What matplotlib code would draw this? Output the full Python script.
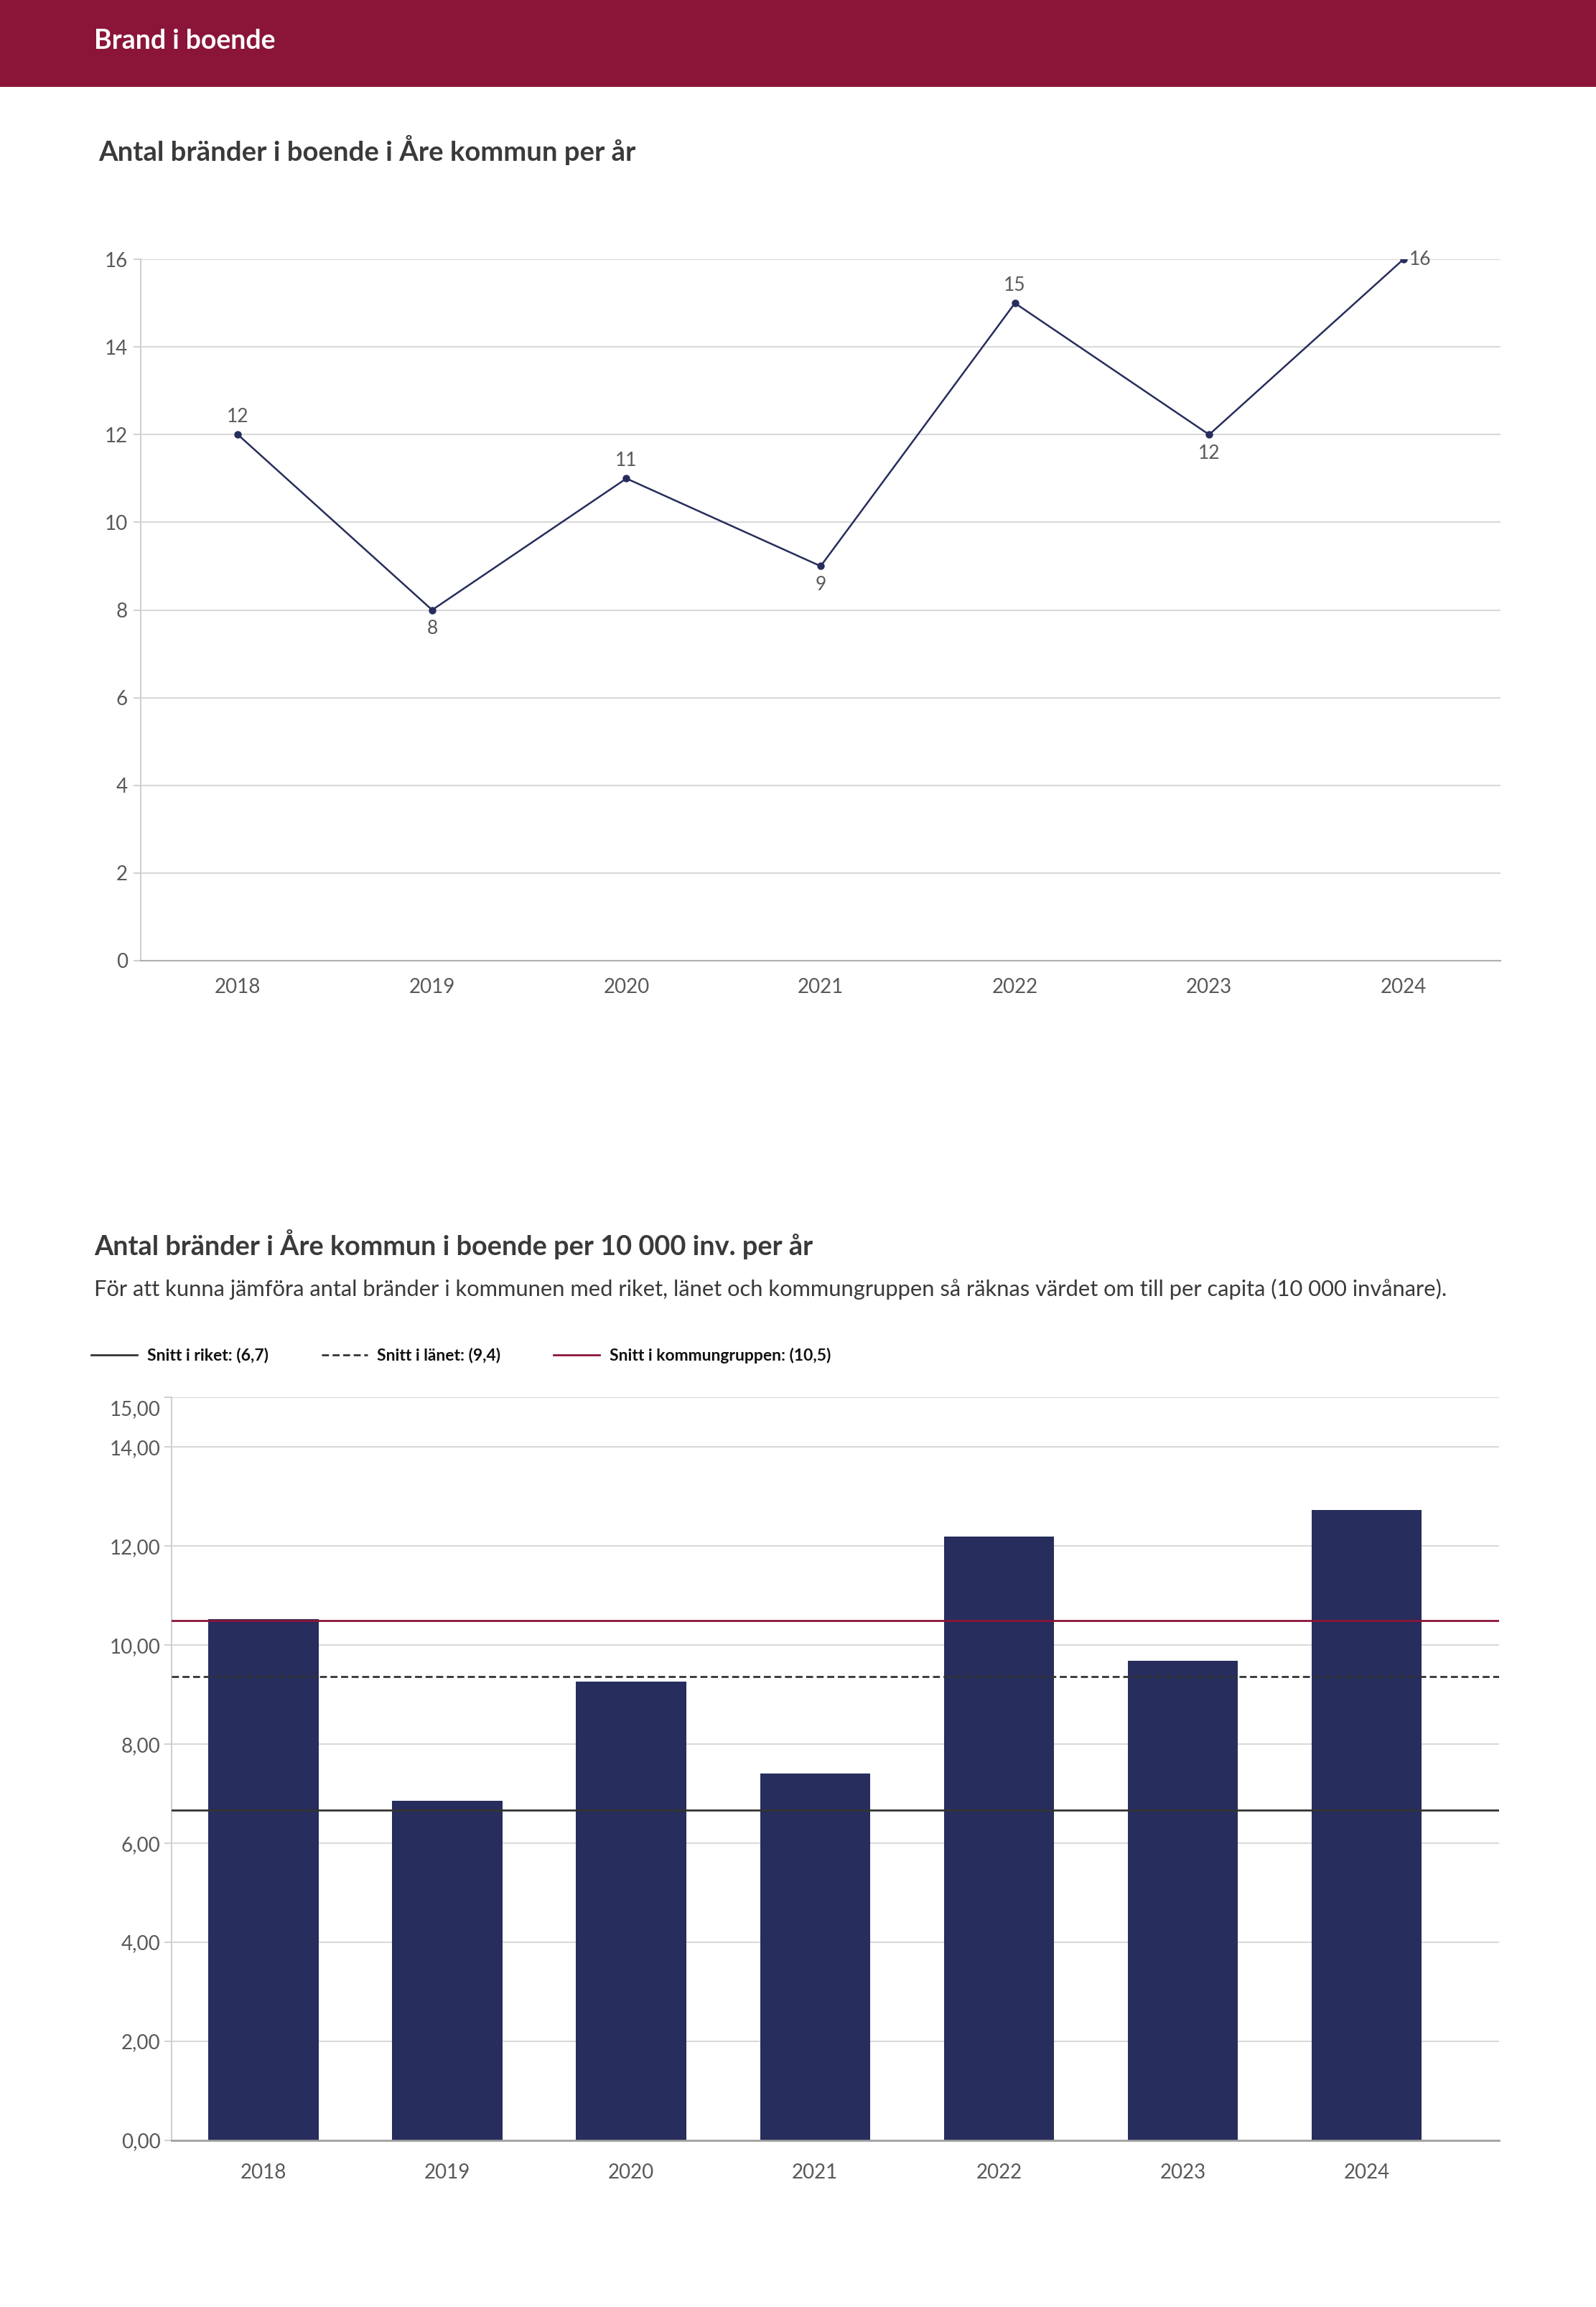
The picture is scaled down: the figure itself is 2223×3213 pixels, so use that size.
import matplotlib
matplotlib.use('Agg')
import matplotlib.pyplot as plt
from matplotlib.patches import Rectangle

# data
years = ['2018', '2019', '2020', '2021', '2022', '2023', '2024']
fires = [12, 8, 11, 9, 15, 12, 16]
fires_per_10k = [10.53, 6.86, 9.26, 7.40, 12.19, 9.68, 12.73]
snitt_riket = 6.67
snitt_lanet = 9.37
snitt_kommungrupp = 10.49

NAVY = '#272d5c'
CRIMSON = '#8b1538'
GRID = '#d9d9d9'
TXT = '#595959'
TITLE = '#3a3a3a'

plt.rcParams['font.family'] = ['Lato', 'DejaVu Sans']

fig = plt.figure(figsize=(22.23, 32.13), dpi=100)

# header band
fig.add_artist(Rectangle((0, 0.9623), 1, 0.0377, transform=fig.transFigure,
                         facecolor=CRIMSON, edgecolor='none'))
fig.text(0.059, 0.9823, 'Brand i boende', color='white', fontsize=27,
         fontweight='bold', va='center', ha='left')

def comma(v, nd):
    return '{0:.{1}f}'.format(v, nd).replace('.', ',')

# ---- chart 1: line
fig.text(0.0616, 0.935, 'Antal bränder i boende i Åre kommun per år',
         color=TITLE, fontsize=27.5, fontweight='bold', va='center')
ax1 = fig.add_axes([0.0882, 0.5836, 0.852, 0.304])
x = list(range(len(years)))
ax1.plot(x, fires, '-o', color=NAVY, lw=1.8, ms=6.5, zorder=3)
ax1.set_xlim(-0.5, len(years) - 0.5)
ax1.set_ylim(0, 16)
ax1.set_yticks(range(0, 17, 2))
ax1.set_xticks(x)
ax1.set_xticklabels(years)
ax1.grid(axis='y', color=GRID, lw=1.5)
ax1.set_axisbelow(True)
for s in ['top', 'right']:
    ax1.spines[s].set_visible(False)
ax1.spines['left'].set_color('#d0d0d0')
ax1.spines['bottom'].set_color('#b0b0b0')
ax1.spines['left'].set_linewidth(1.5)
ax1.spines['bottom'].set_linewidth(1.5)
ax1.tick_params(axis='y', colors='#c8c8c8', labelcolor=TXT, labelsize=20,
                length=7, width=1.2, pad=6)
ax1.tick_params(axis='x', length=0, labelcolor=TXT, labelsize=20, pad=17)
n = len(fires)
for i, v in enumerate(fires):
    if i == n - 1:
        ax1.annotate(str(v), (i, v), xytext=(6, 0), textcoords='offset points',
                     ha='left', va='center', fontsize=19, color=TXT)
    elif 0 < i and v < fires[i - 1] and v < fires[i + 1]:
        ax1.annotate(str(v), (i, v), xytext=(0, -10), textcoords='offset points',
                     ha='center', va='top', fontsize=19, color=TXT)
    else:
        ax1.annotate(str(v), (i, v), xytext=(0, 9), textcoords='offset points',
                     ha='center', va='bottom', fontsize=19, color=TXT)

# ---- chart 2: bars
fig.text(0.059, 0.4606, 'Antal bränder i Åre kommun i boende per 10 000 inv. per år',
         color=TITLE, fontsize=27.3, fontweight='bold', va='center')
fig.text(0.059, 0.4413, 'För att kunna jämföra antal bränder i kommunen med riket, länet '
         'och kommungruppen så räknas värdet om till per capita (10 000 invånare).',
         color=TITLE, fontsize=22.2, va='center')

ax2 = fig.add_axes([0.1075, 0.0722, 0.8318, 0.3221])
ax2.bar(x, fires_per_10k, width=0.6, color=NAVY, zorder=2)
l1 = ax2.axhline(snitt_riket, color='#333333', lw=2, zorder=3,
                 label='Snitt i riket: (' + comma(snitt_riket, 1) + ')')
l2 = ax2.axhline(snitt_lanet, color='#333333', lw=2, ls=(0, (3.5, 1.8)), zorder=3,
                 label='Snitt i länet: (' + comma(snitt_lanet, 1) + ')')
l3 = ax2.axhline(snitt_kommungrupp, color=CRIMSON, lw=2, zorder=3,
                 label='Snitt i kommungruppen: (' + comma(snitt_kommungrupp, 1) + ')')
ax2.set_xlim(-0.5, 6.72)
ax2.set_ylim(0, 15)
yt = [0, 2, 4, 6, 8, 10, 12, 14, 15]
ax2.set_yticks(yt)
ax2.set_yticklabels([comma(v, 2) if v != 15 else '' for v in yt])
# top label sits just under its gridline
ax2.annotate(comma(15, 2), (0, 15), xycoords=ax2.get_yaxis_transform(),
             xytext=(-11, -3), textcoords='offset points',
             ha='right', va='top', fontsize=20, color=TXT)
ax2.set_xticks(x)
ax2.set_xticklabels(years)
ax2.grid(axis='y', color=GRID, lw=1.5, zorder=0)
ax2.set_axisbelow(True)
for s in ['top', 'right']:
    ax2.spines[s].set_visible(False)
ax2.spines['left'].set_color('#d0d0d0')
ax2.spines['bottom'].set_color('#a0a0a0')
ax2.spines['left'].set_linewidth(1.5)
ax2.spines['bottom'].set_linewidth(2)
ax2.tick_params(axis='y', colors='#c8c8c8', labelcolor=TXT, labelsize=20,
                length=7, width=1.2, pad=4)
ax2.tick_params(axis='x', length=0, labelcolor=TXT, labelsize=20, pad=23)

leg = fig.legend(handles=[l1, l2, l3], loc='center left', bbox_to_anchor=(0.048, 0.4125),
                 ncol=3, frameon=False, fontsize=16.5, handlelength=2.8,
                 handletextpad=0.6, columnspacing=3.2)
for t in leg.get_texts():
    t.set_fontweight('bold')
    t.set_color('#111111')

fig.savefig('out.png', dpi=100)
